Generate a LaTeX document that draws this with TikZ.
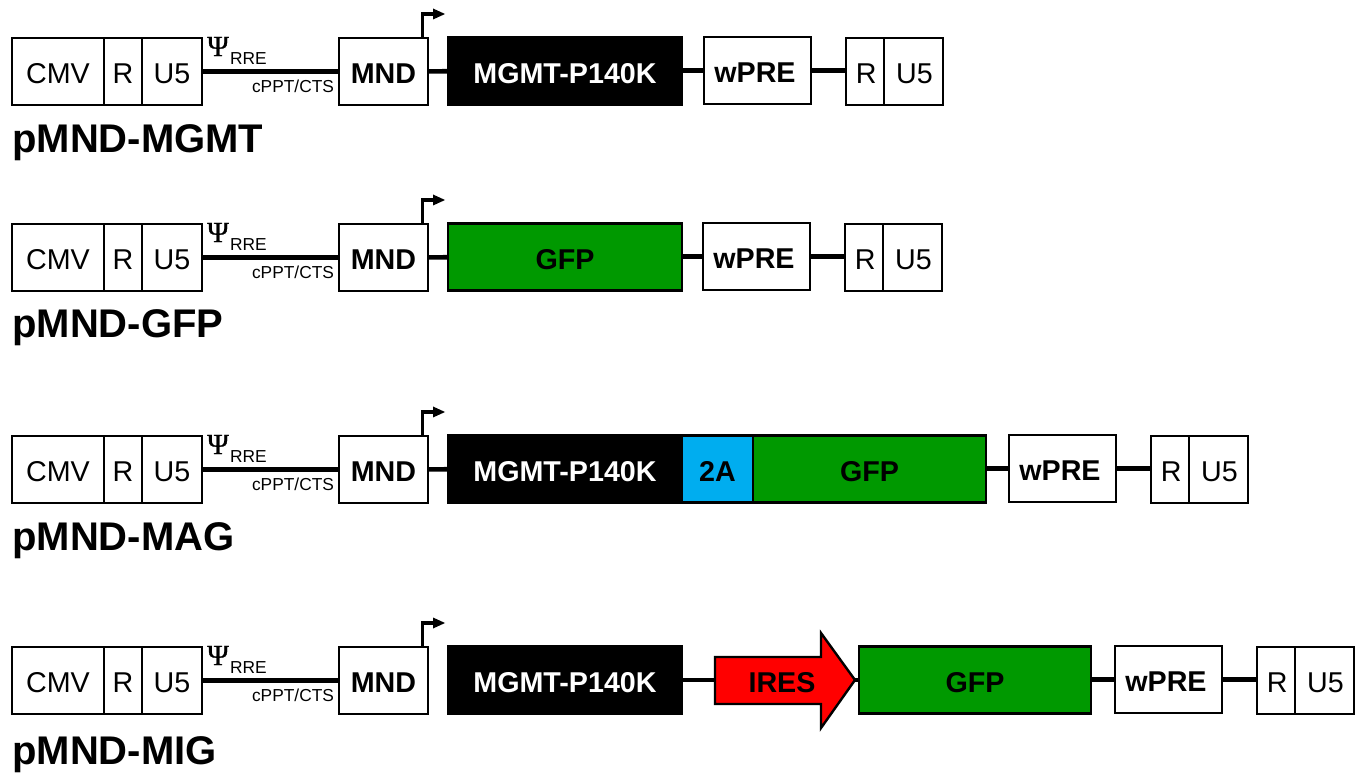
\documentclass[tikz,border=0pt]{standalone}
\usepackage{fontspec}
\setmainfont{Liberation Sans}
\newfontfamily\psifont[FakeBold=0.8]{Liberation Serif}
\usetikzlibrary{calc}
\definecolor{gfpgreen}{HTML}{009900}
\definecolor{twoablue}{HTML}{00ADEF}
\definecolor{iresred}{HTML}{FF0000}
\tikzset{
  x=0.75pt, y=-0.75pt,
  box/.style={draw=black, line width=1.8pt, fill=white, inner sep=0pt, outer sep=0pt, minimum height=50.25pt, font=\fontsize{21.5}{24}\selectfont},
  boldbox/.style={box, font=\fontsize{21.5}{24}\selectfont\bfseries},
  blackbox/.style={boldbox, fill=black, text=white},
  greenbox/.style={boldbox, fill=gfpgreen},
  bluebox/.style={boldbox, fill=twoablue},
  wire/.style={line width=3.5pt, black},
  promoter/.style={line width=2.5pt, black},
  head/.style={fill=black, draw=none},
  small/.style={inner sep=0pt, font=\fontsize{13}{15}\selectfont},
  title/.style={inner sep=0pt, anchor=base west, font=\fontsize{30}{34}\selectfont\bfseries},
  psi/.style={inner sep=0pt, font=\fontsize{22}{24}\selectfont\psifont},
}
% name, x0, x1, ytop, style, text
\newcommand{\bx}[6]{\node[#5, minimum width={((#3)-(#2))*0.75pt}] (#1) at ({((#2)+(#3))/2},{#4+33.5}) {\raisebox{-1.6pt}[15.4pt][0pt]{#6}};}
% prefix, ytop
\newcommand{\leftpart}[2]{%
  \bx{#1cmv}{12}{104}{#2}{box}{CMV}
  \bx{#1r}{104}{142}{#2}{box}{R}
  \bx{#1u}{142}{202}{#2}{box}{U5}
  \bx{#1mnd}{339}{428}{#2}{boldbox}{MND}
  \draw[wire] (#1u) -- (#1mnd);
  \node[psi] (#1psi) at (218,{#2+8.5}) {Ψ};
  \node[small] (#1rre) at (248.5,{#2+21}) {RRE};
  \node[small] (#1cppt) at (293,{#2+48.5}) {cPPT/CTS};
  \coordinate (#1pa) at (422.7,#2);
  \coordinate (#1pb) at (422.7,{#2-24});
  \coordinate (#1pc) at (434,{#2-24});
  \coordinate (#1pd) at (433,{#2-29.5});
  \coordinate (#1pe) at (445,{#2-24});
  \coordinate (#1pf) at (433,{#2-18.5});
  \draw[promoter] (#1pa) -- (#1pb) -- (#1pc);
  \fill[head] (#1pd) -- (#1pe) -- (#1pf) -- cycle;
}
% prefix, x of wPRE left, ytop of wPRE
\newcommand{\rightpart}[3]{%
  \bx{#1w}{#2}{#2+107}{#3}{boldbox}{\kern-3.8pt wPRE}
  \bx{#1rr}{#2+142}{#2+180}{#3+1}{box}{\hspace*{2pt}R}
  \bx{#1uu}{#2+180}{#2+239}{#3+1}{box}{\hspace*{1.5pt}U5}
  \draw[wire] (#1w.east) -- (#1w.east -| #1rr.west);
}
\begin{document}
\begin{tikzpicture}
\useasboundingbox (0,0) rectangle (1360,773);
% Row 1
\leftpart{a}{38}
\bx{amgmt}{448}{682}{37.5}{blackbox}{MGMT-P140K}
\rightpart{a}{704}{37}
\draw[wire] (amnd) -- (amgmt);
\draw[wire] (aw.west -| amgmt.east) -- (aw.west);
\node[title] (at) at (12,152.5) {pMND-MGMT};
% Row 2
\leftpart{b}{224}
\bx{bgfp}{448}{682}{223.5}{greenbox}{GFP}
\rightpart{b}{703}{223}
\draw[wire] (bmnd) -- (bgfp);
\draw[wire] (bw.west -| bgfp.east) -- (bw.west);
\node[title] (bt) at (12,337.5) {pMND-GFP};
% Row 3
\leftpart{c}{436}
\bx{cmgmt}{448}{682}{435.5}{blackbox}{MGMT-P140K}
\bx{cta}{682}{753}{435.5}{bluebox}{2A}
\bx{cgfp}{753}{986}{435.5}{greenbox}{GFP}
\rightpart{c}{1009}{435}
\draw[wire] (cmnd) -- (cmgmt);
\draw[wire] (cw.west -| cgfp.east) -- (cw.west);
\node[title] (ct) at (12,550.5) {pMND-MAG};
% Row 4
\leftpart{d}{647}
\bx{dmgmt}{448}{682}{646.5}{blackbox}{MGMT-P140K}
\bx{dgfp}{859}{1091}{646.5}{greenbox}{GFP}
\rightpart{d}{1115}{646}
\coordinate (dtail) at (715,680);
\coordinate (dtip) at (855,680);
\draw[line width=1.8pt, fill=iresred, miter limit=10] (715,657) -- (821,657) -- (821,633) -- (dtip) -- (821,728) -- (821,704) -- (715,704) -- cycle;
\node[inner sep=0pt, font=\fontsize{21.5}{24}\selectfont\bfseries] (dires) at (782,682.5) {IRES};
\draw[wire] (dmgmt) -- (dtail);
\draw[wire] (dtip) -- (dgfp);
\draw[wire] (dw.west -| dgfp.east) -- (dw.west);
\node[title] (dt) at (12,764.5) {pMND-MIG};
\end{tikzpicture}
\end{document}
